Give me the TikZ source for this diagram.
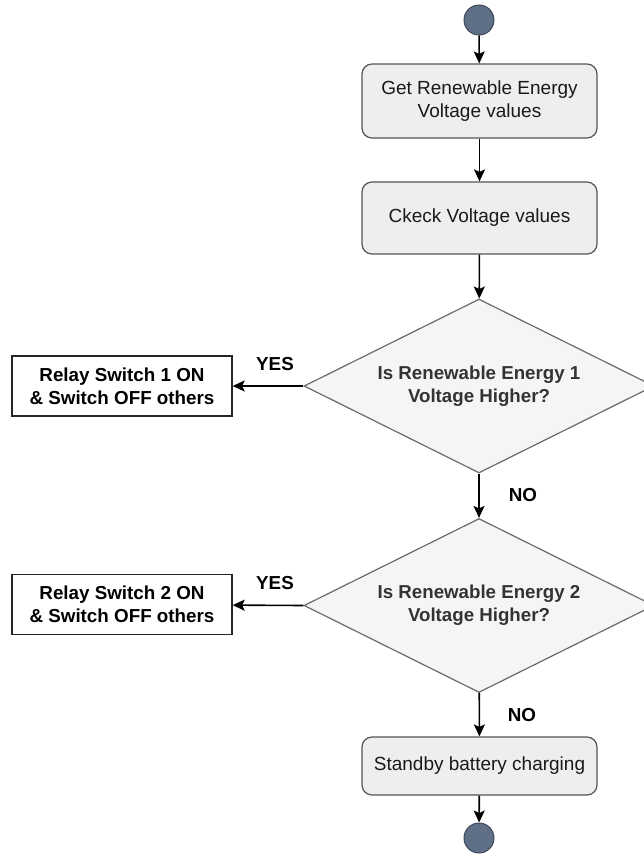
\documentclass[tikz,border=0pt]{standalone}
\usepackage{fontspec}
\setmainfont{Liberation Sans}
\usetikzlibrary{shapes.geometric,arrows.meta}
\definecolor{termfill}{HTML}{5F6F86}
\definecolor{termline}{HTML}{3E4A5C}
\definecolor{procfill}{HTML}{EEEEEE}
\definecolor{procline}{HTML}{555555}
\definecolor{decfill}{HTML}{F3F5F7}
\definecolor{decline}{HTML}{6A6A6A}
\definecolor{dectext}{HTML}{333333}
\tikzset{
  terminal/.style={circle, draw=termline, fill=termfill, line width=1pt,
    minimum size=30pt, inner sep=0pt},
  process/.style={rectangle, rounded corners=10pt, draw=procline, fill=procfill,
    line width=1.2pt, minimum width=235pt, inner sep=0pt, align=center,
    font=\fontsize{19}{23}\selectfont, text=black!90},
  decision/.style={diamond, draw=decline, fill=decfill, line width=1.2pt,
    shape aspect=2, inner sep=0pt, minimum width=350pt, minimum height=174pt,
    align=center, font=\fontsize{18.7}{23}\selectfont\bfseries, text=dectext},
  action/.style={rectangle, draw=black!85, fill=white, line width=1.3pt,
    minimum width=220pt, minimum height=60pt, inner sep=0pt, align=center,
    font=\fontsize{18.8}{23}\selectfont\bfseries},
  branch/.style={font=\fontsize{18.8}{22}\selectfont\bfseries},
  flow/.style={line width=1.6pt, -{Stealth[length=12pt,width=11pt,inset=2.5pt]}}
}
\begin{document}
\begin{tikzpicture}[x=1pt,y=-1pt]
\useasboundingbox (0,0) rectangle (644,854);

\node[terminal] (start) at (479,20) {};
\node[process, minimum height=74pt] (get) at (479.5,101) {Get Renewable Energy\\Voltage values};
\node[process, minimum height=72pt] (check) at (479.5,218) {Ckeck Voltage values};
\node[decision] (d1) at (479,386) {Is Renewable Energy 1\\Voltage Higher?};
\node[action] (r1) at (122,386) {Relay Switch 1 ON\\\& Switch OFF others};
\node[decision] (d2) at (479,605.5) {Is Renewable Energy 2\\Voltage Higher?};
\node[action] (r2) at (122,604.5) {Relay Switch 2 ON\\\& Switch OFF others};
\node[process, minimum height=58pt] (standby) at (479.5,766) {Standby battery charging};
\node[terminal] (stop) at (479,838) {};

\draw[flow] (start) -- (get);
\draw[flow] (get) -- (check);
\draw[flow] (check) -- (d1);
\draw[flow] (d1.west) -- (r1);
\draw[flow] (d1) -- (d2);
\draw[flow] (d2.west) -- (r2);
\draw[flow] (d2) -- (standby);
\draw[flow] (standby) -- (stop);

\node[branch] (yes1) at (275,364) {YES};
\node[branch] (yes2) at (275,583) {YES};
\node[branch] (no1) at (523,495) {NO};
\node[branch] (no2) at (522,715) {NO};
\end{tikzpicture}
\end{document}
